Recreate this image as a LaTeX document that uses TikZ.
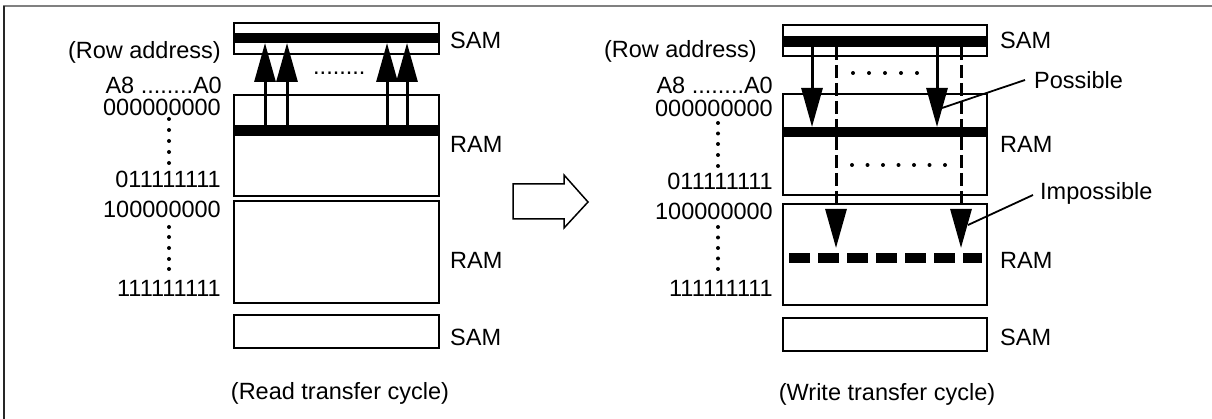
\documentclass[tikz,border=0pt]{standalone}
\usepackage{fontspec}
\setmainfont{Liberation Sans}
\usetikzlibrary{arrows.meta}
\begin{document}
\begin{tikzpicture}[x=1pt,y=-1pt,
  lbl/.style={inner sep=0pt, font=\fontsize{23.5}{23.5}\selectfont},
  box/.style={draw, line width=1.5pt, fill=white, inner sep=0pt, outer sep=0pt, anchor=north west},
  barfill/.style={fill=black},
  solidarr/.style={line width=3pt, -{Triangle[length=39pt,width=21pt]}},
  dasharr/.style={line width=3pt, dash pattern=on 13pt off 5pt, -{Triangle[length=39pt,width=21pt]}},
  leader/.style={line width=1.8pt},
  vdot/.style={fill=black, circle, inner sep=0pt, minimum size=4pt},
]
\useasboundingbox (0,0) rectangle (1212,419);
% frame
\draw[line width=2pt, black!50] (3,6) -- (1212,6);
\draw[line width=2pt, black!85] (4,6) -- (4,419);

% ---------- left: read transfer ----------
\node[box, minimum width=205pt, minimum height=31pt] (samTL) at (234,23) {};
\node[box, minimum width=205pt, minimum height=101pt] (ramL1) at (234,95) {};
\node[box, minimum width=205pt, minimum height=102pt] (ramL2) at (234,201) {};
\node[box, minimum width=205pt, minimum height=33pt] (samBL) at (234,315) {};
\fill[barfill] (samTL.west |- 0,33) rectangle (samTL.east |- 0,43);
\fill[barfill] (ramL1.west |- 0,125) rectangle (ramL1.east |- 0,136);

\foreach \x [count=\i] in {265,287,387,407}{
  \coordinate (lfrom\i) at (\x,125);
  \coordinate (lto\i) at (\x,43);
  \draw[solidarr] (lfrom\i) -- (lto\i);
}
\node[lbl, anchor=base west] (ldots) at (313,75) {........};

\node[lbl, anchor=base east] (rowL) at (221,59) {(Row address)};
\node[lbl, anchor=base east] (a8L) at (222,93.5) {A8 ........A0};
\node[lbl, anchor=base east] (z0L) at (221,115.5) {000000000};
\node[lbl, anchor=base east] (z1L) at (221,188) {011111111};
\node[lbl, anchor=base east] (o0L) at (221,218) {100000000};
\node[lbl, anchor=base east] (o1L) at (221,297) {111111111};
\foreach \y [count=\i] in {119,130,141,152,163}{ \node[vdot] (lva\i) at (169,\y) {}; }
\foreach \y [count=\i] in {227,237,248,259,269}{ \node[vdot] (lvb\i) at (169,\y) {}; }

\node[lbl, anchor=base west] (samL1) at (450,49) {SAM};
\node[lbl, anchor=base west] (ramL1t) at (450,153) {RAM};
\node[lbl, anchor=base west] (ramL2t) at (450,269) {RAM};
\node[lbl, anchor=base west] (samL2) at (450,345) {SAM};
\node[lbl, anchor=base] (capL) at (340,399) {(Read transfer cycle)};

% ---------- block arrow ----------
\draw[line width=1.5pt, fill=white] (513,184) -- (564,184) -- (564,175) -- (588,202) -- (564,228) -- (564,219) -- (513,219) -- cycle;

% ---------- right: write transfer ----------
\node[box, minimum width=204pt, minimum height=31pt] (samTR) at (783,25) {};
\node[box, minimum width=204pt, minimum height=101pt] (ramR1) at (783,94) {};
\node[box, minimum width=204pt, minimum height=101pt] (ramR2) at (783,204) {};
\node[box, minimum width=204pt, minimum height=33pt] (samBR) at (783,318) {};
\fill[barfill] (samTR.west |- 0,36) rectangle (samTR.east |- 0,47);
\fill[barfill] (ramR1.west |- 0,127) rectangle (ramR1.east |- 0,137);
\draw[line width=10pt, dash pattern=on 21pt off 8pt] (789,258) -- (982,258);

\foreach \x [count=\i] in {812,937}{
  \coordinate (rfrom\i) at (\x,47);
  \coordinate (rto\i) at (\x,127);
  \draw[solidarr] (rfrom\i) -- (rto\i);
}
\foreach \x [count=\i] in {836,961}{
  \coordinate (dfrom\i) at (\x,47);
  \coordinate (dto\i) at (\x,248);
  \draw[dasharr] (dfrom\i) -- (dto\i);
}
\foreach \x [count=\i] in {853,869,885,901,917}{ \node[vdot] (rha\i) at (\x,73) {}; }
\foreach \x [count=\i] in {852,867.5,883,898.5,914,929.5,945}{ \node[vdot] (rhb\i) at (\x,165) {}; }

\node[lbl, anchor=base east] (rowR) at (757,58) {(Row address)};
\node[lbl, anchor=base east] (a8R) at (773,93.5) {A8 ........A0};
\node[lbl, anchor=base east] (z0R) at (773,116.5) {000000000};
\node[lbl, anchor=base east] (z1R) at (773,190) {011111111};
\node[lbl, anchor=base east] (o0R) at (773,220) {100000000};
\node[lbl, anchor=base east] (o1R) at (773,297) {111111111};
\foreach \y [count=\i] in {123,133.5,144,155,166}{ \node[vdot] (rva\i) at (718,\y) {}; }
\foreach \y [count=\i] in {227,237.5,248,258.5,269}{ \node[vdot] (rvb\i) at (718,\y) {}; }

\node[lbl, anchor=base west] (samR1) at (1000,49) {SAM};
\node[lbl, anchor=base west] (possT) at (1034,89) {Possible};
\node[lbl, anchor=base west] (ramR1t) at (1000,153) {RAM};
\node[lbl, anchor=base west] (impT) at (1040,200) {Impossible};
\node[lbl, anchor=base west] (ramR2t) at (1000,269) {RAM};
\node[lbl, anchor=base west] (samR2) at (1000,345) {SAM};
\node[lbl, anchor=base] (capR) at (887,400) {(Write transfer cycle)};

\coordinate (possFrom) at (1025,80);
\coordinate (possTo) at (942,108);
\draw[leader] (possFrom) -- (possTo);
\coordinate (impFrom) at (1033,195);
\coordinate (impTo) at (968,225);
\draw[leader] (impFrom) -- (impTo);
\end{tikzpicture}
\end{document}
